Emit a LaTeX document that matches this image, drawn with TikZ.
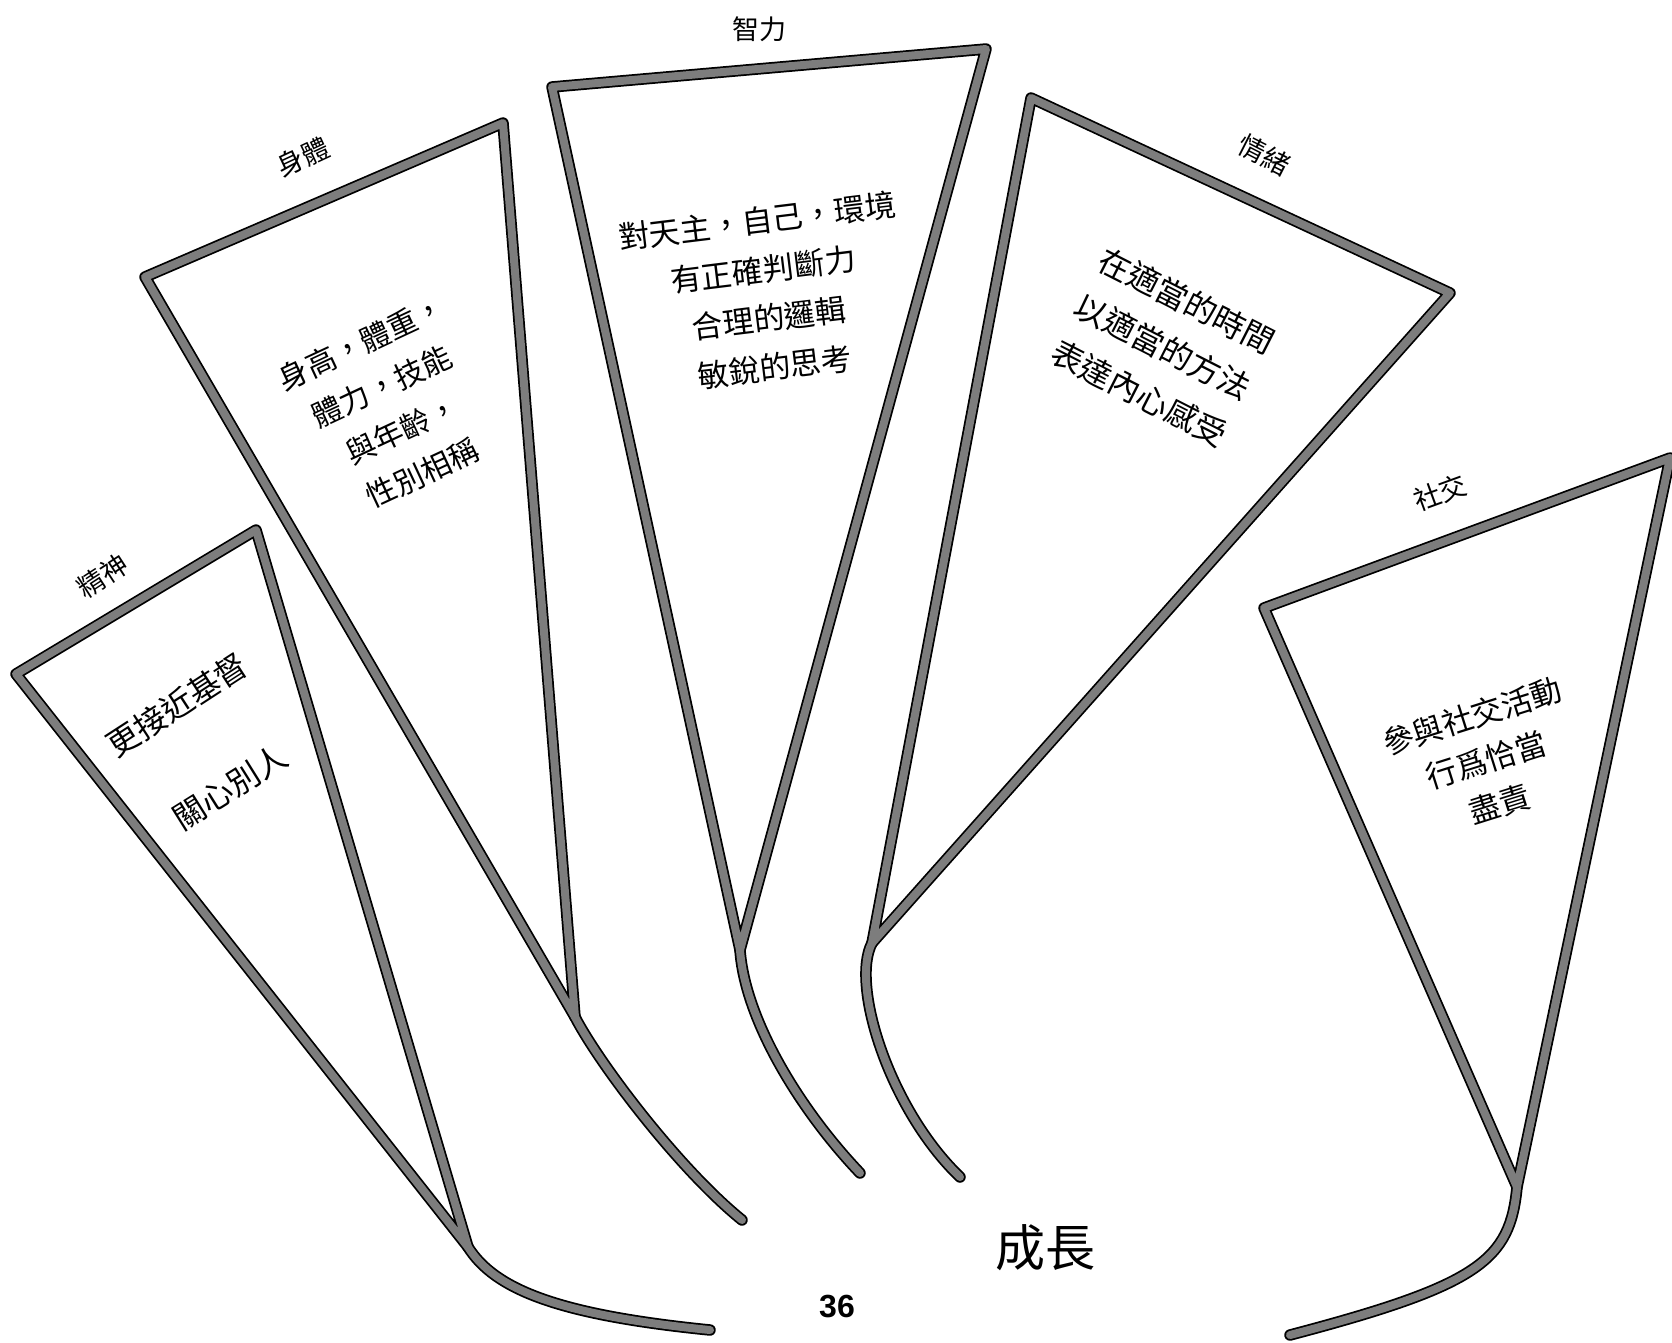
\documentclass[tikz,border=0pt]{standalone}
\usepackage{fontspec}
\setmainfont{Noto Sans CJK TC}
\newfontfamily\numfont{Liberation Sans}
\definecolor{strokegray}{RGB}{125,125,125}
\begin{document}
\begin{tikzpicture}[x=1pt,y=-1pt,
  outerline/.style={line width=11.5pt,draw=black,line cap=round,line join=round},
  innerline/.style={line width=8pt,draw=strokegray,line cap=round,line join=round},
  lbl/.style={inner sep=0pt,font={\fontsize{27}{30}\selectfont}},
  body/.style={inner sep=0pt,align=center}]
\useasboundingbox[fill=white] (0,0) rectangle (1672,1342);
% corner coordinates
\coordinate (a1) at (16,674);   \coordinate (b1) at (256,530);  \coordinate (j1) at (468,1247); \coordinate (t1) at (710,1330);
\coordinate (a2) at (145,277);  \coordinate (b2) at (503,123);  \coordinate (j2) at (575,1017); \coordinate (t2) at (742,1220);
\coordinate (a3) at (552,87);   \coordinate (b3) at (986,49);   \coordinate (j3) at (740,950);  \coordinate (t3) at (860,1173);
\coordinate (a4) at (1031,98);  \coordinate (b4) at (1450,293); \coordinate (j4) at (872,943);  \coordinate (t4) at (960,1177);
\coordinate (a5) at (1264,608); \coordinate (b5) at (1670,458); \coordinate (j5) at (1517,1187); \coordinate (t5) at (1290,1335);
\newcommand{\mypetals}[1]{%
  \draw[#1] (j1) -- (a1) -- (b1) -- cycle;
  \draw[#1] (j1) .. controls (495,1290) and (560,1315) .. (t1);
  \draw[#1] (j2) -- (a2) -- (b2) -- cycle;
  \draw[#1] (j2) .. controls (600,1065) and (680,1170) .. (t2);
  \draw[#1] (j3) -- (a3) -- (b3) -- cycle;
  \draw[#1] (j3) .. controls (745,1020) and (800,1110) .. (t3);
  \draw[#1] (j4) -- (a4) -- (b4) -- cycle;
  \draw[#1] (j4) .. controls (850,985) and (890,1110) .. (t4);
  \draw[#1] (j5) -- (a5) -- (b5) -- cycle;
  \draw[#1] (j5) .. controls (1510,1260) and (1480,1285) .. (t5);
}
\mypetals{outerline}
\mypetals{innerline}
% labels
\node[lbl] (lzhili) at (759,29) {智力};
\node[lbl,rotate=25] (lshenti) at (303,157) {身體};
\node[lbl,rotate=33] (ljingshen) at (103,576) {精神};
\node[lbl,rotate=-27] (lqingxu) at (1264,155) {情緒};
\node[lbl,rotate=20] (lshejiao) at (1440,493) {社交};
\node[inner sep=0pt,font={\fontsize{50}{54}\selectfont}] (growth) at (1045,1248) {成長};
\node[inner sep=0pt,font={\numfont\bfseries\fontsize{32}{36}\selectfont}] (page) at (837,1306) {36};
% bodies
\node[body,rotate=25,font={\fontsize{30}{48}\selectfont}] (bshenti) at (392,408)
  {身高，體重，\\體力，技能\\與年齡，\\性別相稱};
\node[body,rotate=7,font={\fontsize{31}{49}\selectfont}] (bzhili) at (766,294)
  {對天主，自己，環境\\有正確判斷力\\合理的邏輯\\敏銳的思考};
\node[body,rotate=-27,font={\fontsize{32}{52}\selectfont}] (bqingxu) at (1163,347)
  {在適當的時間\\以適當的方法\\表達內心感受};
\node[body,rotate=17.5,font={\fontsize{31}{46}\selectfont}] (bshejiao) at (1486,760)
  {參與社交活動\\行爲恰當\\盡責};
\node[body,rotate=33,font={\fontsize{32}{36}\selectfont}] (bjs1) at (177,705) {更接近基督};
\node[body,rotate=32,font={\fontsize{32}{36}\selectfont}] (bjs2) at (230,787) {關心別人};
\end{tikzpicture}
\end{document}
